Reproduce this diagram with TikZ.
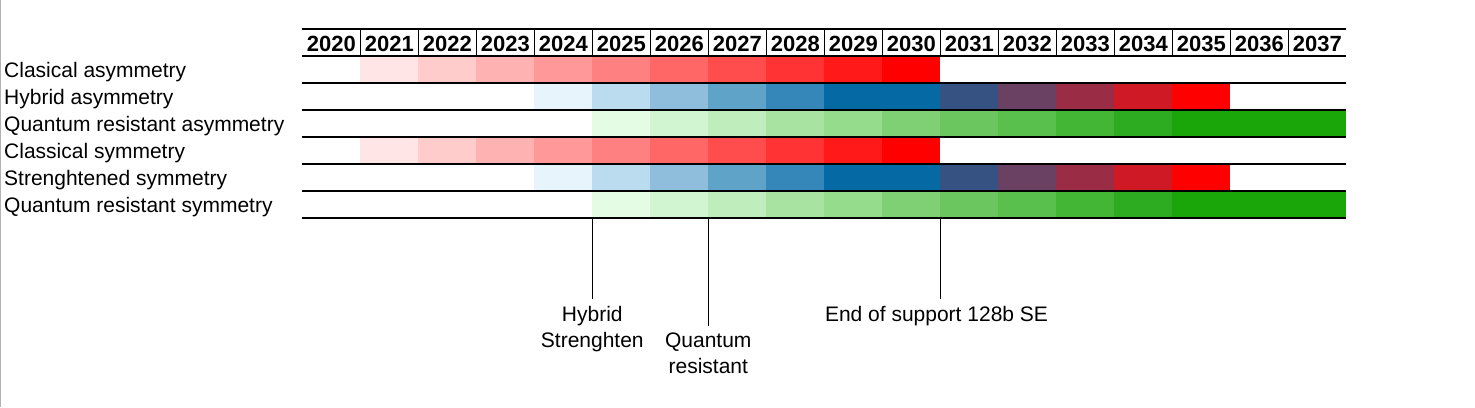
\documentclass[tikz,border=0pt]{standalone}
\usepackage{fontspec}
\setmainfont{Liberation Sans}
\usetikzlibrary{positioning,calc}

% blue shades (hybrid / strengthened)
\definecolor{blA}{RGB}{232,244,252}
\definecolor{blB}{RGB}{187,220,238}
\definecolor{blC}{RGB}{143,190,221}
\definecolor{blD}{RGB}{95,163,200}
\definecolor{blE}{RGB}{52,135,184}
\definecolor{blF}{RGB}{5,105,164}
\definecolor{blG}{RGB}{53,82,130}
\definecolor{blH}{RGB}{107,65,99}
\definecolor{blI}{RGB}{154,44,69}
\definecolor{blJ}{RGB}{207,26,38}
% green shades (quantum resistant)
\definecolor{grA}{RGB}{228,252,228}
\definecolor{grB}{RGB}{208,245,208}
\definecolor{grC}{RGB}{191,237,188}
\definecolor{grD}{RGB}{168,227,162}
\definecolor{grE}{RGB}{149,220,140}
\definecolor{grF}{RGB}{127,208,116}
\definecolor{grG}{RGB}{107,198,95}
\definecolor{grH}{RGB}{90,192,77}
\definecolor{grI}{RGB}{68,182,54}
\definecolor{grJ}{RGB}{45,172,34}
\definecolor{grK}{RGB}{26,165,8}

\def\redrow{white,red!10,red!20,red!30,red!40,red!50,red!60,red!70,red!80,red!90,red}
\def\bluerow{white,white,white,white,blA,blB,blC,blD,blE,blF,blF,blG,blH,blI,blJ,red}
\def\greenrow{white,white,white,white,white,grA,grB,grC,grD,grE,grF,grG,grH,grI,grJ,grK,grK,grK}

\begin{document}
\begin{tikzpicture}[x=1pt, y=-1pt,
    rowlabel/.style={anchor=base west, inner sep=0pt, font=\fontsize{21}{24}\selectfont},
    yearlabel/.style={anchor=base, inner sep=0pt, font=\fontsize{22}{24}\selectfont\bfseries},
    callout/.style={anchor=north, align=center, inner sep=6.5pt, font=\fontsize{21}{26.6}\selectfont},
    rule/.style={line width=1.4pt},
    tick/.style={line width=1pt}]
  \useasboundingbox (0,0) rectangle (1475,407);
  \draw[gray!60, line width=1pt] (0.5,0) -- (0.5,407);

  % cell colours
  \foreach \r in {0,3} {
    \foreach \c [count=\i from 0] in \redrow
      \fill[fill=\c] (302.3+58*\i, 56+27*\r) rectangle +(58,27);
    \foreach \c [count=\i from 0] in \bluerow
      \fill[fill=\c] (302.3+58*\i, 83+27*\r) rectangle +(58,27);
    \foreach \c [count=\i from 0] in \greenrow
      \fill[fill=\c] (302.3+58*\i, 110+27*\r) rectangle +(58,27);
  }

  % header and rules
  \draw[rule] (302.3,29) -- (1346.3,29);
  \foreach \k in {1,...,17}
    \draw[tick] (302.3+58*\k,29) -- (302.3+58*\k,56);
  \foreach \k in {0,...,6}
    \draw[rule] (302.3,56+27*\k) -- (1346.3,56+27*\k);
  \foreach \yr [count=\i from 0] in {2020,...,2037}
    \node[yearlabel] (y\yr) at (331.3+58*\i,51.3) {\yr};

  % row names
  \foreach \t [count=\k from 0] in {Clasical asymmetry, Hybrid asymmetry,
      Quantum resistant asymmetry, Classical symmetry, Strenghtened symmetry,
      Quantum resistant symmetry}
    \node[rowlabel] (row\k) at (4,77.8+27*\k) {\t};

  % milestones
  \coordinate (hyb) at (592.3,218);
  \node[callout] (hybtxt) at (592.3,299.3) {Hybrid\\Strenghten};
  \draw[tick] (hyb) -- (hybtxt.north);

  \coordinate (qr) at (708.3,218);
  \node[callout] (qrtxt) at (708.3,326) {Quantum\\resistant};
  \draw[tick] (qr) -- (qrtxt.north);

  \coordinate (eos) at (940.3,218);
  \node[callout] (eostxt) at (936.5,299.3) {End of support 128b SE};
  \draw[tick] (eos) -- (eos |- eostxt.north);
\end{tikzpicture}
\end{document}
